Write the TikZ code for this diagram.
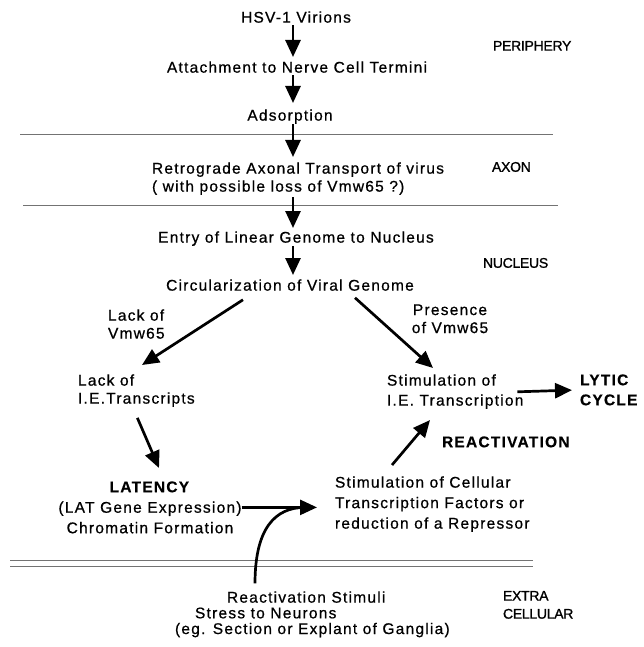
\documentclass[tikz,border=0pt]{standalone}
\usepackage{fontspec}
\setmainfont{Liberation Sans}[LetterSpace=8, FakeBold=0.7, BoldFeatures={FakeBold=0.4}]
\newfontfamily\regfont{Liberation Sans}[LetterSpace=-2, FakeBold=1.2]
\usetikzlibrary{arrows.meta}
\tikzset{
  lbl/.style={inner sep=0pt, outer sep=0pt, font=\fontsize{15.5}{18}\selectfont},
  blk/.style={lbl, align=left},
  ctr/.style={lbl, align=center},
  region/.style={inner sep=0pt, outer sep=0pt, align=left, font=\regfont\fontsize{14}{18}\selectfont},
  arr/.style={line width=2.7pt, -{Triangle[length=17pt,width=15pt]}},
  rule/.style={line width=0.8pt, black!55, dash pattern=on 1.5pt off 0.5pt},
}
\begin{document}
\begin{tikzpicture}[x=1pt,y=-1pt]
\useasboundingbox (0,0) rectangle (644,647);
% texts
\node[lbl, anchor=north] (hsv) at (296,11.4) {HSV-1 Virions};
\node[lbl, anchor=north] (att) at (297,61.4) {Attachment to Nerve Cell Termini};
\node[lbl, anchor=north] (ads) at (290,109.4) {Adsorption};
\node[region, anchor=north west] (peri) at (493,41) {PERIPHERY};
\node[blk, anchor=north west] (ret) at (152,162.4) {Retrograde Axonal Transport of virus\\( with possible loss of Vmw65 ?)};
\node[region, anchor=north west] (axon) at (492,162) {AXON};
\node[lbl, anchor=north] (entry) at (296,231.4) {Entry of Linear Genome to Nucleus};
\node[region, anchor=north west] (nuc) at (483,258) {NUCLEUS};
\node[lbl, anchor=north] (circ) at (290,279.4) {Circularization of Viral Genome};
\node[blk, anchor=north west] (lackv) at (108,309.4) {Lack of\\Vmw65};
\node[ctr, anchor=north] (pres) at (450,304.4) {Presence\\of Vmw65};
\node[blk, anchor=north west] (lackie) at (78,374.4) {Lack of\\I.E.Transcripts};
\node[blk, anchor=north west, font=\fontsize{15.5}{20}\selectfont] (stimie) at (387,374.4) {Stimulation of\\I.E. Transcription};
\node[blk, anchor=north west, font=\fontsize{15.5}{20}\selectfont\bfseries] (lytic) at (580,374.4) {LYTIC\\CYCLE};
\node[lbl, anchor=north west, font=\fontsize{15.5}{20}\selectfont\bfseries] (reac) at (442,436.4) {REACTIVATION};
\node[ctr, anchor=north, font=\fontsize{15.5}{20.5}\selectfont] (lat) at (150,481.4) {\textbf{LATENCY}\\(LAT Gene Expression)\\Chromatin Formation};
\node[blk, anchor=north west, font=\fontsize{15.5}{20.5}\selectfont] (stimcell) at (335,476.4) {Stimulation of Cellular\\Transcription Factors or\\reduction of a Repressor};
\node[blk, anchor=north west, font=\fontsize{15.5}{15.7}\selectfont] (stimuli) at (175,591.4) {\hspace*{52pt}Reactivation Stimuli\\\hspace*{20pt}Stress to Neurons\\(eg. Section or Explant of Ganglia)};
\node[region, anchor=north west, font=\regfont\fontsize{14}{18}\selectfont] (extra) at (503,591) {EXTRA\\CELLULAR};
% rules
\draw[rule] (20,134) -- (553,134);
\draw[rule] (23,205) -- (558,205);
\draw[rule] (10,560) -- (533,560);
\draw[rule] (10,566) -- (533,566);
% arrows
\coordinate (ax) at (293,0);
\draw[arr, shorten <=2.5pt, shorten >=4.4pt] (ax |- hsv.south) -- (ax |- att.north);
\draw[arr, shorten <=2.4pt, shorten >=6.4pt] (ax |- att.south) -- (ax |- ads.north);
\draw[arr, shorten >=5.4pt] (ax |- ads.south) -- (ax |- ret.north);
\draw[arr, shorten <=2.6pt, shorten >=3.4pt] (ax |- ret.south) -- (ax |- entry.north);
\draw[arr, shorten >=4.4pt] (ax |- entry.south) -- (ax |- circ.north);
\draw[arr] ([shift={(-47,9)}]circ.south) -- ([shift={(64,-9.4)}]lackie.north west);
\draw[arr] ([shift={(65,7)}]circ.south) -- ([shift={(46,-6.4)}]stimie.north west);
\draw[arr, shorten <=-6pt, shorten >=8pt] (stimie.east) -- (lytic.west);
\draw[arr] ([shift={(1,11)}]lackie.south) -- ([shift={(9,-13.4)}]lat.north);
\draw[arr] ([shift={(57,-11.4)}]stimcell.north west) -- ([shift={(43,11.2)}]stimie.south west);
\draw[arr, shorten >=18pt] (lat.east) -- (lat.east -| stimcell.west);
\path (lat.east -| stimcell.west) ++(-30,0) coordinate (join);
\draw[line width=2.7pt] ([shift={(80,-8)}]stimuli.north west) .. controls +(0,-55) and +(-30,0) .. (join);
\end{tikzpicture}
\end{document}
